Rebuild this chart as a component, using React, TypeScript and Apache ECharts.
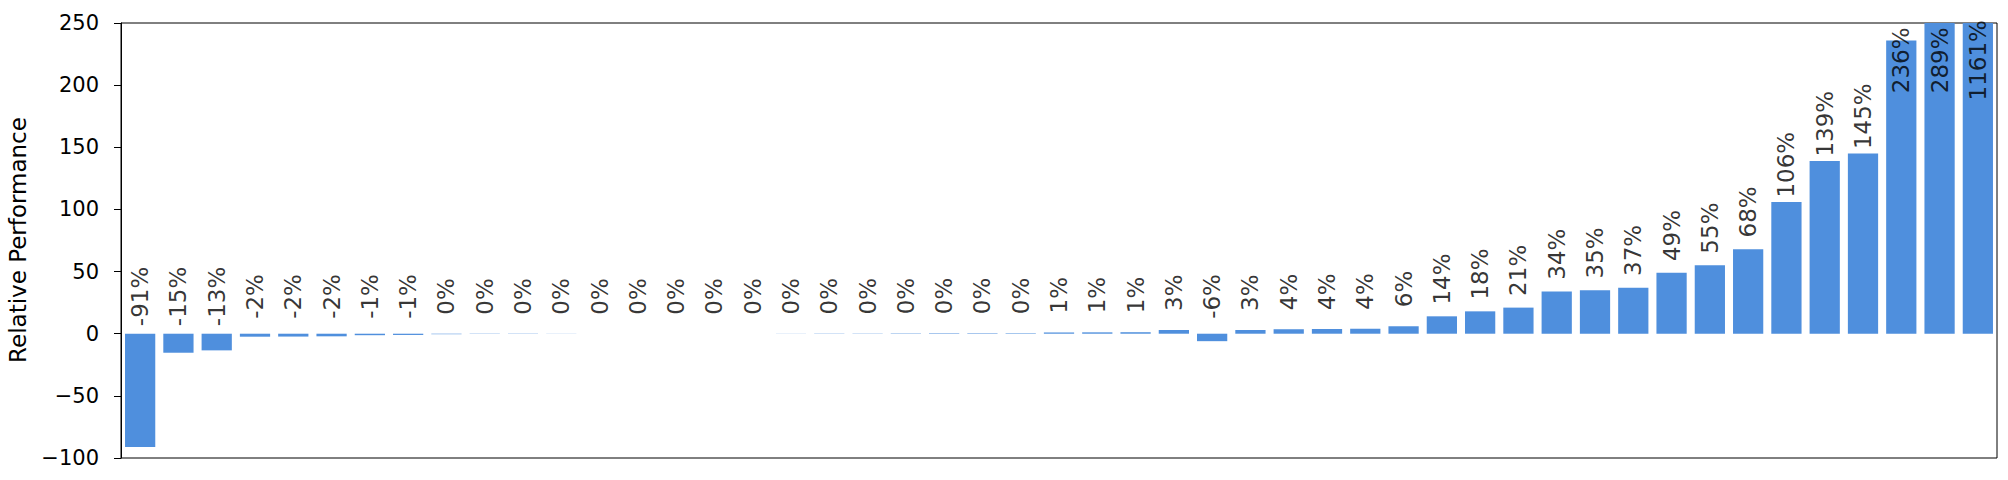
import React, { useEffect, useRef } from "react";
import * as echarts from "echarts";

// Relative performance (%) per case, in the order drawn
const values: number[] = [
  -91.2, -15.3, -13.4, -2.4, -2.3, -2.1, -1.2, -1.0,
  -0.4, -0.2, -0.2, -0.1, 0, 0, 0, 0, 0, 0.1, 0.2, 0.2, 0.3, 0.4, 0.4, 0.4,
  1.0, 1.1, 1.2, 3.0, -6.0, 3.0, 3.6, 3.8, 4.0, 6.0,
  14.0, 18.0, 21.0, 34.0, 35.0, 37.0, 49.0, 55.0, 68.0,
  106.0, 139.0, 145.0, 236.0, 289.0, 1161.0,
];
const categories: string[] = values.map((_, i) => `case ${i + 1}`);
const yTicks = { min: -100, max: 250, interval: 50 };

const LABEL_OFFSET = 30; // data units above bar top where the label is centred
const LABEL_CAP = 190; // label anchor cap for bars taller than the axis

const FONT = "DejaVu Sans";
const BAR_COLOR = "#4f8fdd";

export default function App() {
  const ref = useRef<HTMLDivElement>(null);
  useEffect(() => {
    if (!ref.current) return;
    const chart = echarts.init(ref.current, null, { renderer: "svg" });
    const labelY = values.map((v) => Math.min(Math.max(v, 0), LABEL_CAP) + LABEL_OFFSET);
    const labelText = values.map((v) => `${Math.round(v)}%`);
    chart.setOption({
      animation: false,
      backgroundColor: "#ffffff",
      grid: {
        left: 121,
        right: 11,
        top: 23,
        bottom: 22,
        show: true,
        borderColor: "#000",
        borderWidth: 1,
        backgroundColor: "transparent",
      },
      xAxis: {
        type: "category",
        data: categories,
        boundaryGap: true,
        axisLine: { show: false },
        axisTick: { show: false },
        axisLabel: { show: false },
        splitLine: { show: false },
      },
      yAxis: {
        type: "value",
        min: yTicks.min,
        max: yTicks.max,
        interval: yTicks.interval,
        axisLine: { show: true, lineStyle: { color: "#000", width: 1 } },
        axisTick: { show: true, inside: false, length: 7, lineStyle: { color: "#000", width: 1 } },
        axisLabel: {
          margin: 22,
          fontSize: 21,
          fontFamily: FONT,
          color: "#000",
          formatter: (v: number) => (v < 0 ? "\u2212" + Math.abs(v) : String(v)),
        },
        splitLine: { show: false },
      },
      graphic: [
        {
          type: "text",
          x: 18,
          y: 240,
          rotation: Math.PI / 2,
          style: {
            text: "Relative Performance",
            fontSize: 23,
            fontFamily: FONT,
            fill: "#000",
            align: "center",
            verticalAlign: "middle",
          },
        },
      ],
      series: [
        {
          type: "bar",
          data: values,
          barWidth: "79%",
          clip: true,
          itemStyle: { color: BAR_COLOR },
        },
        {
          type: "scatter",
          data: labelY,
          symbolSize: 1,
          clip: false,
          itemStyle: { color: "transparent" },
          label: {
            show: true,
            position: "inside",
            rotate: 90,
            align: "center",
            verticalAlign: "middle",
            fontSize: 23,
            fontFamily: FONT,
            color: "#000",
            formatter: (p: any) => labelText[p.dataIndex],
          },
          z: 5,
        },
      ],
    });
    return () => chart.dispose();
  }, []);
  return (
    <div
      ref={ref}
      style={{ position: "fixed", left: 0, top: 0, width: 2008, height: 480 }}
    />
  );
}
